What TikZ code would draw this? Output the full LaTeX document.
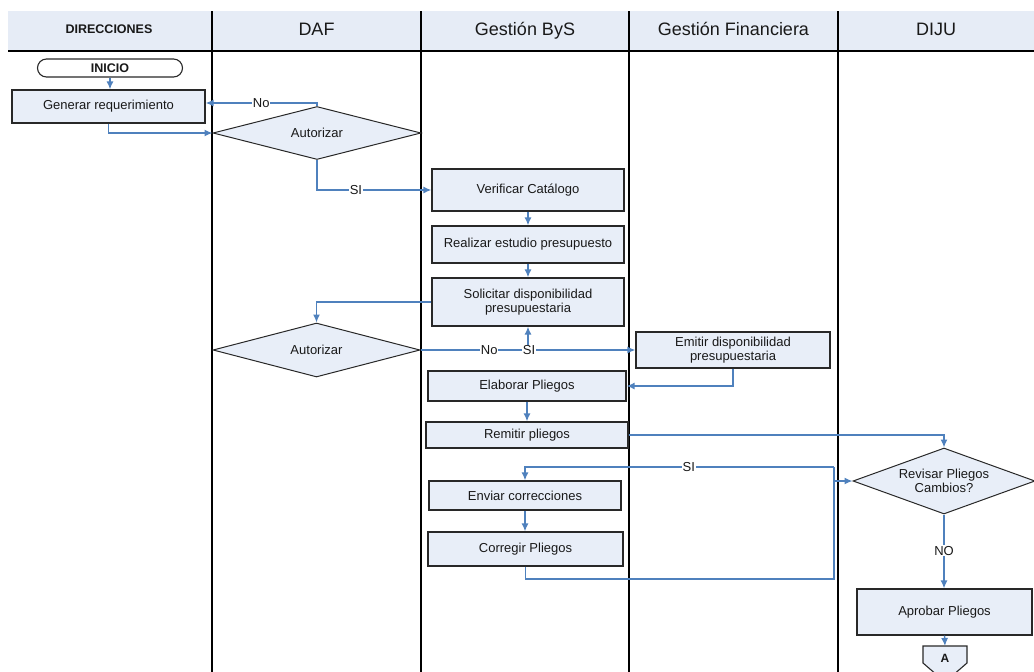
\documentclass[tikz,border=0pt]{standalone}
\usepackage{fontspec}
\setmainfont{Liberation Sans}
\usetikzlibrary{shapes.geometric,arrows.meta,calc}
\definecolor{boxfill}{RGB}{232,238,248}
\definecolor{headfill}{RGB}{230,236,246}
\definecolor{flow}{RGB}{79,129,189}
\definecolor{edge}{RGB}{40,40,40}
\definecolor{ink}{RGB}{25,25,25}

\begin{document}
\begin{tikzpicture}[x=1pt,y=-1pt,
  txt/.style={font=\fontsize{13}{14.5}\selectfont, text=ink},
  proc/.style={txt, draw=edge, line width=1.2pt, fill=boxfill, inner sep=0pt, align=center},
  decide/.style={txt, diamond, draw=edge, line width=1pt, fill=boxfill, inner sep=0pt, align=center},
  term/.style={txt, draw=edge, line width=1.1pt, fill=white, rounded corners=9pt, inner sep=0pt,
    font=\bfseries\fontsize{12.5}{13}\selectfont},
  flowline/.style={draw=flow, line width=1.4pt},
  arr/.style={flowline, -{Latex[length=8pt,width=7pt]}},
  lbl/.style={txt, fill=white, inner sep=0.8pt},
  lane/.style={draw=black, line width=1.1pt},
  head/.style={font=\fontsize{18}{20}\selectfont, text=ink, text height=13pt, text depth=4pt}
]
\useasboundingbox (0,0) rectangle (1034,672);

% header band and swimlane borders
\fill[headfill] (8,11) rectangle (1034,51);
\draw[lane] (8,51) -- (1034,51);
\foreach \lx in {212,421,629,838} \draw[lane] (\lx,11) -- (\lx,672);

\node[font=\bfseries\fontsize{12.5}{13}\selectfont, text=ink] (hdir) at (109,29.5) {DIRECCIONES};
\node[head] (hdaf) at (316.5,30.5) {DAF};
\node[head] (hbys) at (525,30.5) {Gestión ByS};
\node[head] (hfin) at (733.5,30.5) {Gestión Financiera};
\node[head] (hdiju) at (936,30.5) {DIJU};

% process steps
\node[term, minimum width=145, minimum height=18] (inicio) at (110,68) {INICIO};
\node[proc, minimum width=193, minimum height=33] (gen) at (108.5,106.5) {Generar requerimiento};
\node[decide, shape aspect=3.9, minimum width=208, minimum height=53] (aut1) at (317,133) {Autorizar};
\node[proc, minimum width=192, minimum height=42] (ver) at (528,190) {Verificar Catálogo};
\node[proc, minimum width=192, minimum height=37] (real) at (528,244.5) {Realizar estudio presupuesto};
\node[proc, minimum width=192, minimum height=48] (sol) at (528,302) {Solicitar disponibilidad\\presupuestaria};
\node[decide, shape aspect=3.8, minimum width=207, minimum height=54] (aut2) at (316.5,350) {Autorizar};
\node[proc, minimum width=194, minimum height=36] (emit) at (733,350) {Emitir disponibilidad\\presupuestaria};
\node[proc, minimum width=198, minimum height=30] (elab) at (527,386) {Elaborar Pliegos};
\node[proc, minimum width=202, minimum height=26] (rem) at (527,435) {Remitir pliegos};
\node[decide, shape aspect=2.75, minimum width=182, minimum height=66] (rev) at (944,481) {Revisar Pliegos\\Cambios?};
\node[proc, minimum width=192, minimum height=29] (env) at (525,495.5) {Enviar correcciones};
\node[proc, minimum width=195, minimum height=34] (cor) at (525.5,549) {Corregir Pliegos};
\node[proc, minimum width=175, minimum height=46] (apr) at (944.5,612) {Aprobar Pliegos};

% off-page connector
\coordinate (atop) at (945,646);
\draw[draw=edge, line width=1.1pt, fill=boxfill] (923,646) -- (967,646) -- (967,663) -- (945,682) -- (923,663) -- cycle;
\node[font=\bfseries\fontsize{12}{13}\selectfont, text=ink] (conA) at (945,658) {A};

% connectors
\draw[arr] (inicio.south) -- (inicio.south |- gen.north);
\draw[arr] (gen.south) |- (aut1.west);
\draw[arr] (aut1.north) |- node[lbl, pos=0.75] {No} ($(gen.east)+(0,-3.5)$);
\draw[arr] (aut1.south) |- node[lbl, pos=0.67] {SI} (ver.west);
\draw[arr] (ver.south) -- (real.north);
\draw[arr] (real.south) -- (sol.north);
\draw[arr] (sol.west) -| (aut2.north);
\coordinate (split) at (aut2.east -| sol.south);
\draw[arr] (aut2.east) -- node[lbl, pos=0.32] {No} (emit.west);
\draw[arr] (split) -- (sol.south);
\node[lbl] (si2) at ($(split)+(1,0)$) {SI};
\draw[arr] (emit.south) |- (elab.east);
\draw[arr] (elab.south) -- (elab.south |- rem.north);
\draw[arr] (rem.east) -| (rev.north);

\coordinate (bend) at (834,579);
\coordinate (sitop) at (834,467);
\draw[arr] (cor.south) |- (bend) |- (rev.west);
\draw[flowline] (bend |- rev.west) -- (sitop);
\draw[arr] (sitop) -| node[lbl, pos=0.235] {SI} (env.north);
\draw[arr] (env.south) -- (env.south |- cor.north);
\draw[arr] (rev.south) -- node[lbl, pos=0.49] {NO} (rev.south |- apr.north);
\draw[arr] (apr.south) -- (atop);
\end{tikzpicture}
\end{document}
